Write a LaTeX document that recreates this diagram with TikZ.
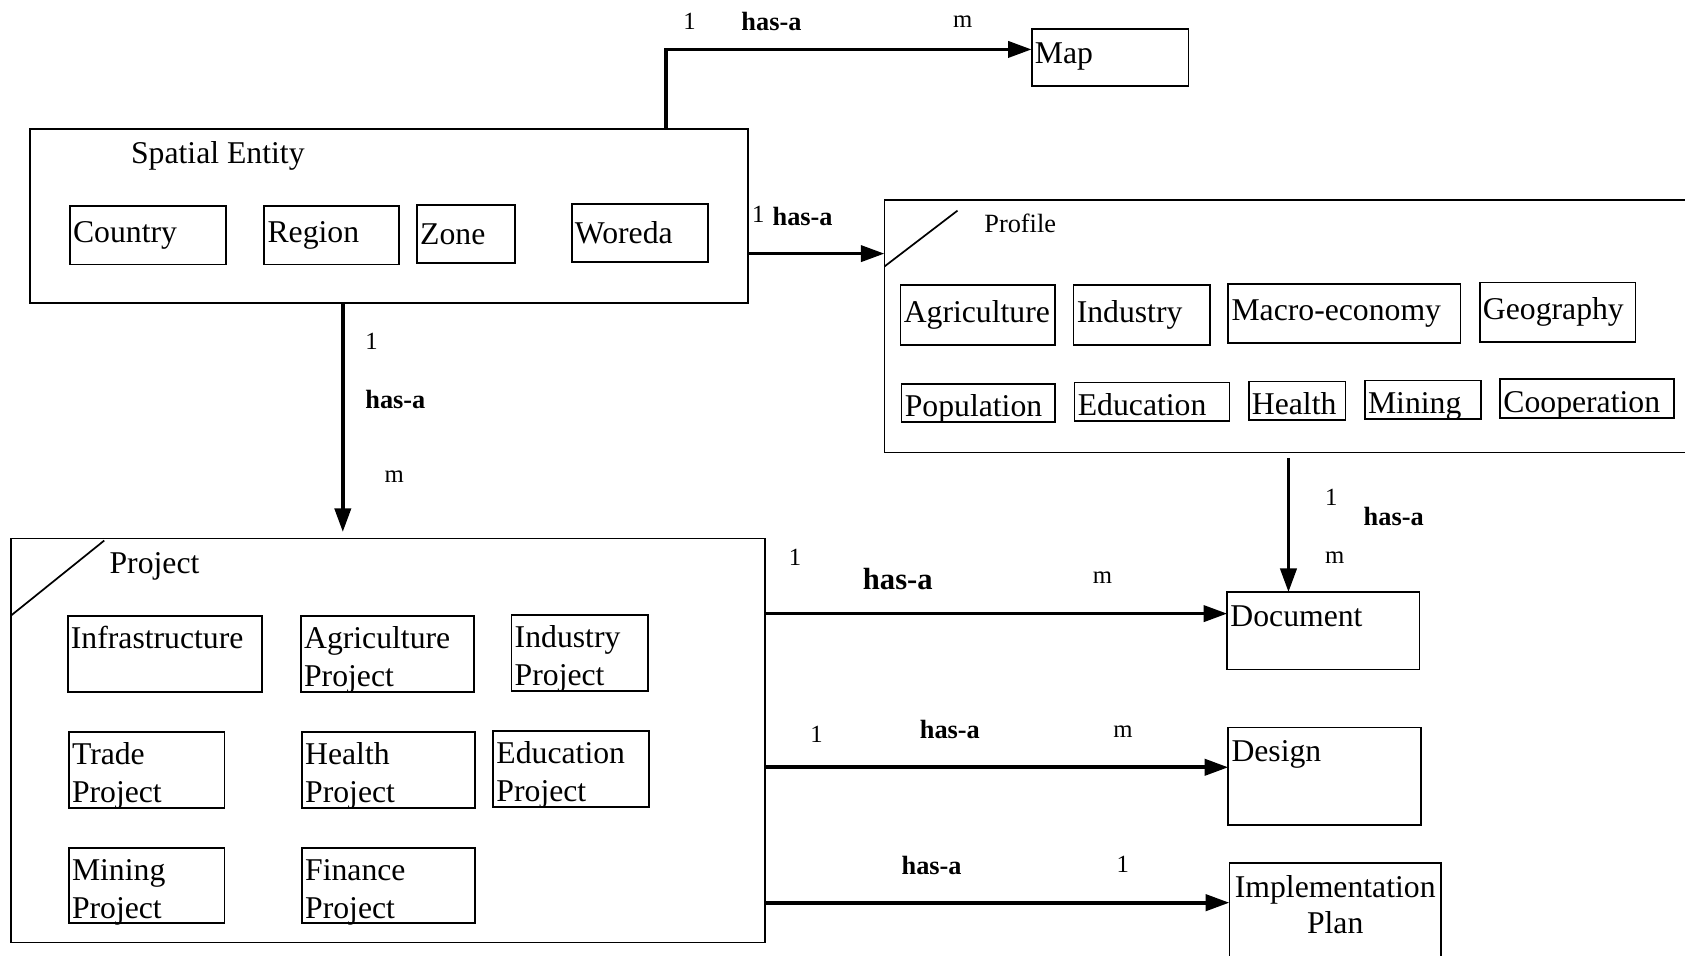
\documentclass[tikz,border=0pt]{standalone}
\usepackage{fontspec}
\setmainfont{Liberation Serif}
\usetikzlibrary{arrows.meta}

\newcommand\itemfont{\fontsize{29.5}{35}\selectfont}
\newcommand\relfont{\fontsize{24.5}{28}\selectfont\bfseries}
\newcommand\relbigfont{\fontsize{28.5}{32}\selectfont\bfseries}
\newcommand\cardfont{\fontsize{23}{27}\selectfont}
\newcommand\titlefont{\fontsize{24.5}{28}\selectfont}
% taller first line, so two-line entries sit a little lower in their frames
\newcommand\firstline{\rule{0pt}{32pt}}

% a framed entry: [style], name, x, y (north west corner), width, height, text
\newcommand\itembox[7][]{%
  \pgfmathsetmacro\itw{#5-6}%
  \node[item, #1, minimum width=#5pt, minimum height=#6pt, text width=\itw pt] (#2) at (#3,#4) {#7};}

\begin{document}
\begin{tikzpicture}[x=1pt,y=-1pt,
  every node/.style={inner sep=0pt, outer sep=0pt},
  frame/.style={draw, line width=1.6pt, rectangle, anchor=north west},
  item/.style={frame, inner xsep=3pt, align=left, font=\itemfont},
  low/.style={text height=26pt, text depth=0pt},
  twoline/.style={inner ysep=-3pt},
  txt/.style={anchor=base west, font=\itemfont},
  rel/.style={anchor=base west, font=\relfont},
  card/.style={anchor=base west, font=\cardfont},
  corner/.style={line width=1.6pt},
  link/.style={line width=3.4pt, -{Triangle[length=22pt,width=15pt]}},
]
\useasboundingbox (0,0) rectangle (1568,889);

% ---------- Spatial Entity ----------
\node[frame, minimum width=668pt, minimum height=162pt] (spatial) at (28,120) {};
\node[txt] (spatialT) at (122,152) {Spatial Entity};
\itembox{country}{65}{192}{145}{54}{Country}
\itembox{region}{246}{192}{125}{54}{Region}
\itembox{zone}{388}{191}{91}{54}{Zone}
\itembox{woreda}{532}{190}{127}{54}{Woreda}

% ---------- Map ----------
\node[frame, minimum width=146pt, minimum height=53pt] (map) at (960,27) {};
\node[txt] (mapT) at (963,59) {Map};

% ---------- Profile ----------
\node[frame, minimum width=760pt, minimum height=235pt] (profile) at (823,186) {};
\draw[corner] (823,248) -- (891,196);
\node[anchor=base west, font=\titlefont] (profileT) at (916,216) {Profile};
\itembox{pAgri}{838}{265}{144}{56}{Agriculture}
\itembox{pInd}{999}{265}{127}{56}{Industry}
\itembox{pMacro}{1143}{264}{216}{55}{Macro-economy}
\itembox{pGeo}{1377}{263}{145}{55}{Geography}
\itembox[low]{pPop}{839}{357}{143}{36}{Population}
\itembox[low]{pEdu}{1000}{356}{144}{36}{Education}
\itembox[low]{pHealth}{1162}{355}{90}{36}{Health}
\itembox[low]{pMining}{1270}{354}{108}{36}{Mining}
\itembox[low]{pCoop}{1396}{353}{162}{36}{Cooperation}

% ---------- Project ----------
\node[frame, minimum width=702pt, minimum height=376pt] (project) at (10,501) {};
\draw[corner] (10,573) -- (97,503);
\node[txt] (projectT) at (102,534) {Project};
\itembox[twoline]{infra}{63}{573}{181}{71}{\firstline Infrastructure\\\phantom{Project}}
\itembox[twoline]{agriP}{280}{573}{161}{71}{\firstline Agriculture\\Project}
\itembox[twoline]{indP}{476}{572}{127}{71}{\firstline Industry\\Project}
\itembox[twoline]{tradeP}{64}{681}{145}{71}{\firstline Trade\\Project}
\itembox[twoline]{healthP}{281}{681}{161}{71}{\firstline Health\\Project}
\itembox[twoline]{eduP}{459}{680}{145}{71}{\firstline Education\\Project}
\itembox[twoline]{miningP}{64}{789}{145}{70}{\firstline Mining\\Project}
\itembox[twoline]{financeP}{281}{789}{161}{70}{\firstline Finance\\Project}

% ---------- Document, Design, Implementation Plan ----------
\node[frame, minimum width=179pt, minimum height=72pt] (doc) at (1142,551) {};
\node[txt] (docT) at (1145,583) {Document};
\node[frame, minimum width=179pt, minimum height=91pt] (design) at (1143,677) {};
\node[txt] (designT) at (1146,709) {Design};
\node[frame, minimum width=197pt, minimum height=100pt] (impl) at (1144,803) {};
\node[anchor=base, font=\itemfont] (implT1) at (1242.5,835) {Implementation};
\node[anchor=base, font=\itemfont] (implT2) at (1242.5,869) {Plan};

% ---------- connector tracks ----------
\coordinate (xMap) at (620,0);
\coordinate (yProf) at (0,236);
\coordinate (xDown) at (319,0);
\coordinate (xDoc) at (1199,0);
\coordinate (yDoc) at (0,571);
\coordinate (yDes) at (0,714);
\coordinate (yImp) at (0,840);

\draw[link] (spatial.north -| xMap) |- ([yshift=7.5pt]map.west);
\draw[link] (spatial.east |- yProf) -- (profile.west |- yProf);
\draw[link, shorten >=6pt] (spatial.south -| xDown) -- (project.north -| xDown);
\draw[link, shorten <=5pt] (profile.south -| xDoc) -- (doc.north -| xDoc);
\draw[link] (project.east |- yDoc) -- (doc.west |- yDoc);
\draw[link] (project.east |- yDes) -- (design.west |- yDes);
\draw[link] (project.east |- yImp) -- (impl.west |- yImp);

% ---------- relationship labels ----------
\node[card] (mapOne) at (636,27) {1};
\node[rel] (mapRel) at (690,28) {has-a};
\node[card] (mapMany) at (887,26) {m};

\node[card] (profOne) at (700,207) {1};
\node[rel] (profRel) at (719,210) {has-a};

\node[card] (projOne) at (340,325) {1};
\node[rel] (projRel) at (340,380) {has-a};
\node[card] (projMany) at (358,449) {m};

\node[card] (pdOne) at (1233,470) {1};
\node[rel] (pdRel) at (1269,489) {has-a};
\node[card] (pdMany) at (1233,524) {m};

\node[card] (docOne) at (734,526) {1};
\node[anchor=base west, font=\relbigfont] (docRel) at (803,549) {has-a};
\node[card] (docMany) at (1017,543) {m};

\node[card] (desOne) at (754,691) {1};
\node[rel] (desRel) at (856,687) {has-a};
\node[card] (desMany) at (1036,686) {m};

\node[rel] (impRel) at (839,814) {has-a};
\node[card] (impOne) at (1039,812) {1};
\end{tikzpicture}
\end{document}
